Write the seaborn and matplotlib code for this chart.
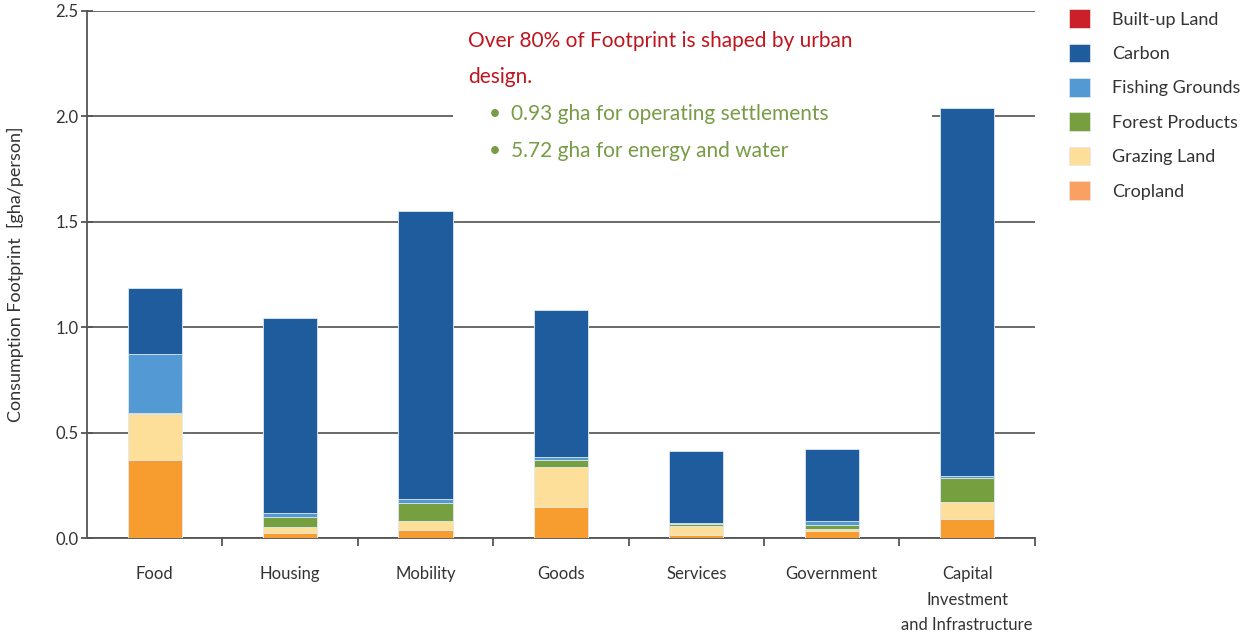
import pandas as pd
import numpy as np
import matplotlib
matplotlib.use("Agg")
import matplotlib.pyplot as plt
from matplotlib.patches import Patch, Rectangle
import seaborn as sns

# categories along the x axis
categories = ["Food", "Housing", "Mobility", "Goods", "Services", "Government",
              "Capital\nInvestment\nand Infrastructure"]

# footprint components, gha/person (bottom to top of each stack)
cropland = [0.371, 0.022, 0.038, 0.149, 0.014, 0.033, 0.089]
grazing = [0.217, 0.029, 0.044, 0.187, 0.043, 0.011, 0.083]
forest = [0.007, 0.050, 0.086, 0.035, 0.008, 0.019, 0.112]
fishing = [0.279, 0.016, 0.016, 0.015, 0.008, 0.019, 0.011]
carbon = [0.312, 0.927, 1.366, 0.694, 0.342, 0.341, 1.746]
builtup = [0.0, 0.0, 0.0, 0.0, 0.0, 0.0, 0.0]

layers = ["Cropland", "Grazing Land", "Forest Products", "Fishing Grounds",
          "Carbon", "Built-up Land"]
bar_colors = {"Cropland": "#F79D30", "Grazing Land": "#FDDF99",
              "Forest Products": "#76A03F", "Fishing Grounds": "#5399D3",
              "Carbon": "#1F5C9E", "Built-up Land": "#C9202A"}
legend_colors = {"Built-up Land": "#C9202A", "Carbon": "#1F5C9E",
                 "Fishing Grounds": "#5399D3", "Forest Products": "#76A03F",
                 "Grazing Land": "#FDDF99", "Cropland": "#F9A062"}
legend_order = ["Built-up Land", "Carbon", "Fishing Grounds", "Forest Products",
                "Grazing Land", "Cropland"]

note_lines = ["Over 80% of Footprint is shaped by urban", "design."]
note_bullets = ["0.93 gha for operating settlements", "5.72 gha for energy and water"]

df = pd.DataFrame({"category": categories, "Cropland": cropland,
                   "Grazing Land": grazing, "Forest Products": forest,
                   "Fishing Grounds": fishing, "Carbon": carbon,
                   "Built-up Land": builtup})
cum = df[layers].cumsum(axis=1)

sns.set_theme(style="white")
plt.rcParams["font.family"] = ["Lato", "DejaVu Sans"]
text_col = "#333333"

fig = plt.figure(figsize=(12.52, 6.38), dpi=100)
ax = fig.add_axes([0.0695, 0.1567, 0.757, 0.8261])

# overlay cumulative bars from the top layer down
for layer in reversed(layers):
    sns.barplot(x=df["category"], y=cum[layer], color=bar_colors[layer],
                width=0.4, saturation=1, edgecolor="#e3ebf3", linewidth=0.6,
                ax=ax, zorder=3)

ax.set_ylim(0, 2.5)
ax.set_xlim(-0.5, 6.5)
ax.set_yticks([0, 0.5, 1.0, 1.5, 2.0, 2.5])
ax.set_yticklabels(["0.0", "0.5", "1.0", "1.5", "2.0", "2.5"])
ax.yaxis.grid(True, color="#5e5e5e", linewidth=1.3)
ax.set_axisbelow(True)

for s in ["top", "right"]:
    ax.spines[s].set_visible(False)
for s in ["left", "bottom"]:
    ax.spines[s].set_color("#555555")
    ax.spines[s].set_linewidth(1.3)

ax.set_xticks(range(len(categories)))
ax.set_xticklabels(categories, linespacing=1.75)
ax.set_xticks(np.arange(0.5, 7, 1), minor=True)
ax.tick_params(axis="x", which="major", length=0, pad=20, labelsize=12,
               labelcolor=text_col)
ax.tick_params(axis="x", which="minor", bottom=True, length=6, width=1.3,
               color="#555555", direction="out")
ax.tick_params(axis="y", left=True, length=8, width=1.3, color="#555555",
               direction="inout", pad=2, labelsize=12, labelcolor=text_col)

ax.set_xlabel("")
ax.set_ylabel("Consumption Footprint  [gha/person]", fontsize=13, color=text_col)
ax.yaxis.set_label_coords(-0.066, 0.5)

# white panel behind the note
ax.add_patch(Rectangle((0.386, 0.69), 0.506, 0.285, transform=ax.transAxes,
                       facecolor="white", edgecolor="none", zorder=1.5))

for i, line in enumerate(note_lines):
    fig.text(0.3738, 0.9263 - i * 0.0565, line, color="#C0141E", fontsize=15,
             va="baseline")
for i, b in enumerate(note_bullets):
    yb = 0.812 - i * 0.058
    fig.text(0.3905, yb, "\u2022", color="#789B45", fontsize=15, va="baseline")
    fig.text(0.408, yb, b, color="#789B45", fontsize=15, va="baseline")

handles = [Patch(facecolor=legend_colors[n], edgecolor="#e8e8e8", linewidth=0.5)
           for n in legend_order]
fig.legend(handles, legend_order, loc="upper left", bbox_to_anchor=(0.8405, 1.011),
           frameon=False, fontsize=13, handlelength=1.2, handleheight=1.2,
           handletextpad=1.2, labelspacing=0.88, labelcolor=text_col)

fig.savefig("out.png", dpi=100)
